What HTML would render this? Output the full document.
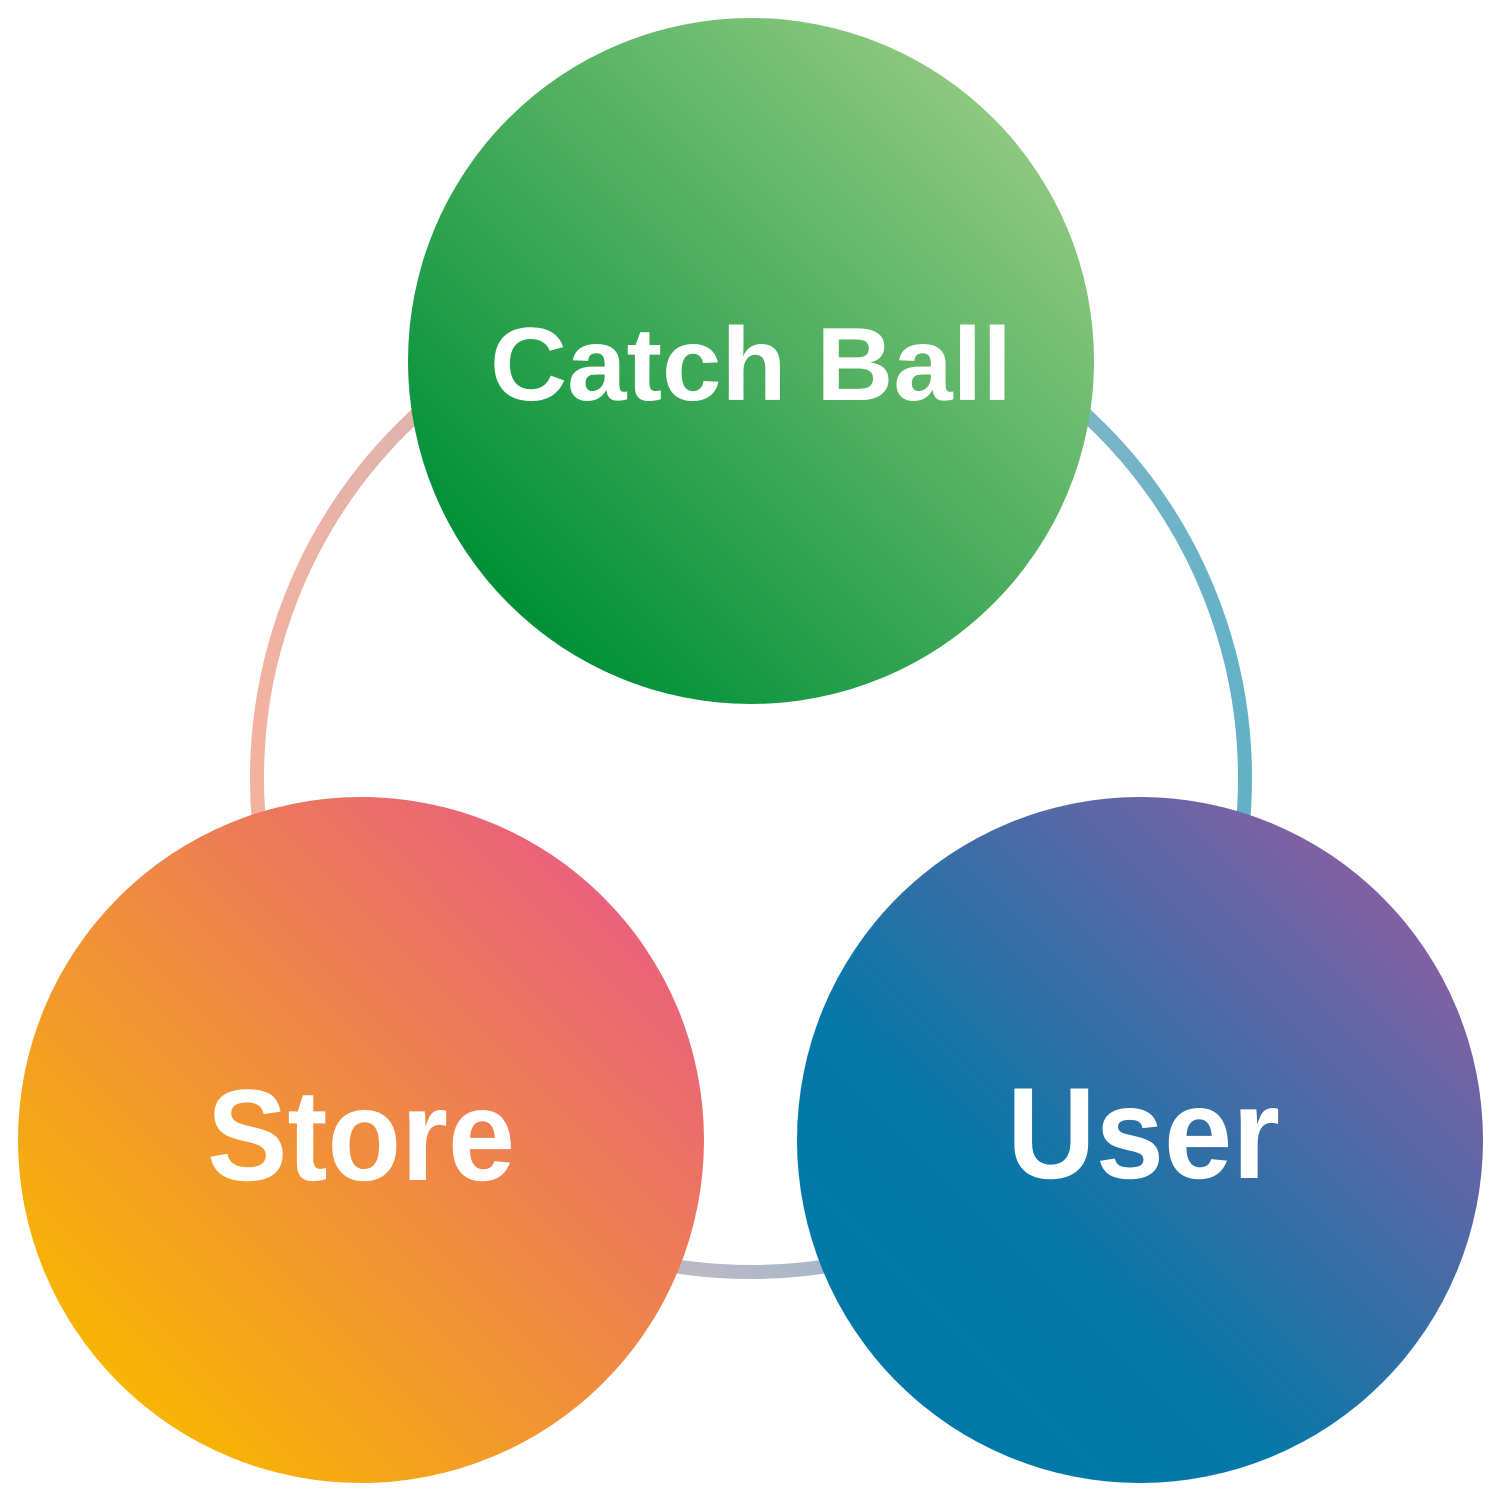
<!DOCTYPE html>
<html><head><meta charset="utf-8"><style>
html,body{margin:0;padding:0;background:#fff;}
svg{display:block}
text{font-family:"Liberation Sans",sans-serif;font-weight:bold;fill:#fff}
</style></head><body>
<svg width="1500" height="1500" viewBox="0 0 1500 1500" xmlns="http://www.w3.org/2000/svg">
<defs>
<linearGradient id="ring" x1="0" y1="0" x2="1" y2="0">
<stop offset="0" stop-color="#f2b2a0"/><stop offset="0.5" stop-color="#b4b8c8"/><stop offset="1" stop-color="#62b2c6"/>
</linearGradient>
<linearGradient id="g" x1="0.15" y1="0.85" x2="0.85" y2="0.15">
<stop offset="0" stop-color="#009038"/><stop offset="1" stop-color="#8cc87e"/>
</linearGradient>
<linearGradient id="s" x1="0.15" y1="0.85" x2="0.85" y2="0.15">
<stop offset="0" stop-color="#f7b404"/><stop offset="1" stop-color="#e9637a"/>
</linearGradient>
<linearGradient id="u" x1="0.15" y1="0.85" x2="0.85" y2="0.15">
<stop offset="0" stop-color="#0079a8"/><stop offset="0.3" stop-color="#0478a8"/><stop offset="1" stop-color="#8060a4"/>
</linearGradient>
</defs>
<circle cx="751" cy="778" r="494" fill="none" stroke="url(#ring)" stroke-width="14"/>
<circle cx="751" cy="361" r="343" fill="url(#g)"/>
<circle cx="361" cy="1140" r="343" fill="url(#s)"/>
<circle cx="1140" cy="1140" r="343" fill="url(#u)"/>
<text x="490" y="400" font-size="104" textLength="522" lengthAdjust="spacingAndGlyphs">Catch Ball</text>
<text x="207" y="1180" font-size="130" textLength="308" lengthAdjust="spacingAndGlyphs">Store</text>
<text x="1007" y="1178" font-size="130" textLength="273" lengthAdjust="spacingAndGlyphs">User</text>
</svg>
</body></html>
